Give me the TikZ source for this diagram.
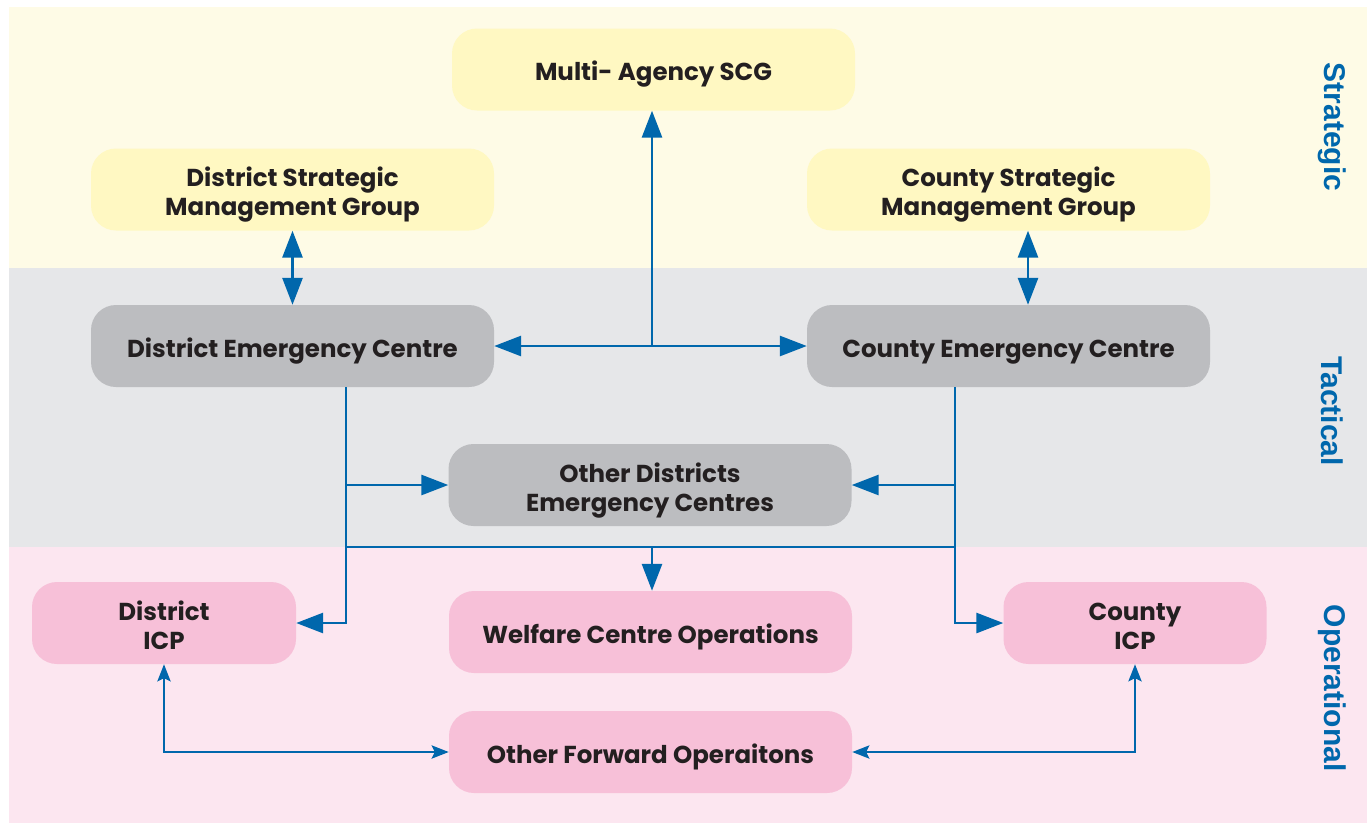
\documentclass[tikz,border=0pt]{standalone}
\usepackage{fontspec}
\setmainfont{Poppins}
\newfontfamily\lblfont{Liberation Sans}
\usetikzlibrary{arrows.meta}
\definecolor{bandY}{HTML}{FEFBE6}
\definecolor{bandG}{HTML}{E6E7E9}
\definecolor{bandP}{HTML}{FCE6F0}
\definecolor{boxY}{HTML}{FFF8C2}
\definecolor{boxG}{HTML}{BCBDC0}
\definecolor{boxP}{HTML}{F7C0D8}
\definecolor{linkB}{HTML}{0067AC}
\definecolor{txtD}{HTML}{231F20}
\newcommand\twoline[2]{\raisebox{-6pt}[\height][\depth]{\begin{tabular}{@{}c@{}}#1\\#2\end{tabular}}}
\tikzset{
  box/.style={rectangle, rounded corners=25pt, minimum width=403pt, minimum height=82pt,
    inner sep=0pt, align=center, text=txtD, font=\fontsize{24.5}{29}\selectfont\bfseries,
    execute at begin node={\rule{0pt}{29pt}}},
  two/.style={execute at begin node={}},
  ybox/.style={box, fill=boxY},
  gbox/.style={box, fill=boxG},
  pbox/.style={box, fill=boxP},
  link/.style={draw=linkB, line width=2.8pt},
  arr/.style={link, -{Triangle[length=27pt,width=20pt]}},
  arrboth/.style={link, {Triangle[length=27pt,width=20pt]}-{Triangle[length=27pt,width=20pt]}},
  sarrboth/.style={link, {Stealth[length=17pt,width=13pt,inset=3pt]}-{Stealth[length=17pt,width=13pt,inset=3pt]}},
  tier/.style={rotate=-90, text=linkB, font=\lblfont\fontsize{30}{30}\selectfont\bfseries}
}
\begin{document}
\begin{tikzpicture}[x=1pt,y=-1pt]
\useasboundingbox (0,0) rectangle (1367,823);
\fill[white] (0,0) rectangle (1367,823);
% bands
\fill[bandY] (9,7) rectangle (1367,268);
\fill[bandG] (9,268) rectangle (1367,547);
\fill[bandP] (9,547) rectangle (1367,823);
% tier labels
\node[tier] (lS) at (1332,127) {Strategic};
\node[tier] (lT) at (1332,411) {Tactical};
\node[tier] (lO) at (1332,688) {Operational};
% nodes
\node[ybox] (scg) at (653.5,69.5) {Multi- Agency SCG};
\node[ybox, two] (dsmg) at (292.5,189.5) {\twoline{District Strategic}{Management Group}};
\node[ybox, two] (csmg) at (1008.5,189.5) {\twoline{County Strategic}{Management Group}};
\node[gbox] (dec) at (292.5,346) {District Emergency Centre};
\node[gbox] (cec) at (1008.5,346) {County Emergency Centre};
\node[gbox, two] (odec) at (650,485) {\twoline{Other Districts}{Emergency Centres}};
\node[pbox, two, minimum width=264pt] (dicp) at (164,623) {\twoline{District}{ICP}};
\node[pbox] (wco) at (650.5,632) {Welfare Centre Operations};
\node[pbox, two, minimum width=263pt] (cicp) at (1135,623) {\twoline{County}{ICP}};
\node[pbox] (ofo) at (650.5,752) {Other Forward Operaitons};
% junction coordinates
\coordinate (jc) at (652,346);
\coordinate (dl) at (346,623);
\coordinate (cl) at (955,623);
\coordinate (h1) at (346,547);
\coordinate (h2) at (955,547);
\coordinate (cx) at (1028,0);
% connectors
\draw[arr] (jc) -- (jc |- scg.south);
\draw[arrboth] (dec.east) -- (cec.west);
\draw[arrboth] (dsmg.south) -- (dec.north);
\draw[arrboth] (csmg.south -| cx) -- (cec.north -| cx);
\draw[arr] (dec.south -| dl) -- (dl) -- (dicp.east);
\draw[arr] (cec.south -| cl) -- (cl) -- (cicp.west);
\draw[arr] (dl |- odec.west) -- (odec.west);
\draw[arr] (cl |- odec.east) -- (odec.east);
\draw[link] (h1) -- (h2);
\draw[arr] (h1 -| jc) -- (jc |- wco.north);
\draw[sarrboth] (dicp.south) |- (ofo.west);
\draw[sarrboth] (cicp.south) |- (ofo.east);
\end{tikzpicture}
\end{document}
